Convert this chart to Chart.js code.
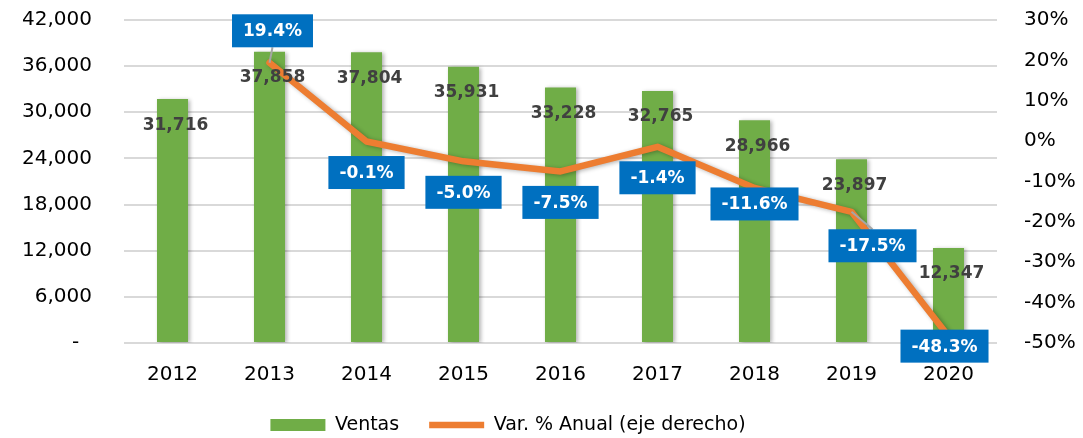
<!DOCTYPE html>
<html>
<head>
<meta charset="utf-8">
<script src="https://cdn.jsdelivr.net/npm/chart.js@4"></script>
<style>
  html, body { margin: 0; padding: 0; background: #fff; }
  #wrap { width: 1083px; height: 438px; }
</style>
</head>
<body>
<div id="wrap"><canvas id="ventas-chart"></canvas></div>
<script>
'use strict';

// *************** DATA
let years = ['2012', '2013', '2014', '2015', '2016', '2017', '2018', '2019', '2020'];
let ventas = [31716, 37858, 37804, 35931, 33228, 32765, 28966, 23897, 12347];
let varAnual = [null, 19.4, -0.1, -5.0, -7.5, -1.4, -11.6, -17.5, -48.3];
let leftTicks = [0, 6000, 12000, 18000, 24000, 30000, 36000, 42000];
let rightTicks = [-50, -40, -30, -20, -10, 0, 10, 20, 30];

// *************** LABEL PLACEMENT (blue box offset from its point, px)
let boxOffsets = [null, [3, -32], [0, 31], [0, 31], [0, 31], [0, 31], [0, 16], [21, 34], [-4, 10]];
let leaderLines = [false, true, false, false, false, false, false, true, false];

// *************** COLORS
let green = '#70AD47';
let orange = '#ED7D31';
let blue = '#0070C0';

Chart.defaults.font.family = '"DejaVu Sans", sans-serif';
Chart.defaults.color = '#000';

let ctx = document.getElementById('ventas-chart');

// ***************** PLUGINS
let shadowPlugin = {
  id: 'shadowPlugin',
  beforeDatasetDraw(chart) {
    let c = chart.ctx;
    c.save();
    c.shadowColor = 'rgba(0, 0, 0, 0.3)';
    c.shadowBlur = 4;
    c.shadowOffsetX = 2;
    c.shadowOffsetY = 1;
  },
  afterDatasetDraw(chart) {
    chart.ctx.restore();
  }
};

let labelPlugin = {
  id: 'labelPlugin',
  afterDatasetsDraw(chart) {
    let c = chart.ctx;
    c.save();
    c.font = 'bold 17px "DejaVu Sans"';
    c.textAlign = 'center';
    c.textBaseline = 'middle';

    // bar value labels, inside the bar just below its top
    c.fillStyle = '#404040';
    chart.getDatasetMeta(0).data.forEach((bar, i) => {
      c.fillText(ventas[i].toLocaleString('en-US'), bar.x + 3, bar.y + 26);
    });

    // blue boxes for the % line
    chart.getDatasetMeta(1).data.forEach((pt, i) => {
      if (varAnual[i] === null) {
        return;
      }
      let text = varAnual[i].toFixed(1) + '%';
      let w = c.measureText(text).width + 22;
      let h = 33;
      let cx = pt.x + boxOffsets[i][0];
      let cy = pt.y + boxOffsets[i][1];

      if (leaderLines[i]) {
        let edgeY = boxOffsets[i][1] < 0 ? cy + h / 2 : cy - h / 2;
        c.strokeStyle = '#a6a6a6';
        c.lineWidth = 2;
        c.beginPath();
        c.moveTo(pt.x, pt.y);
        c.lineTo(cx, edgeY);
        c.stroke();
      }

      c.fillStyle = blue;
      c.fillRect(cx - w / 2, cy - h / 2, w, h);
      c.fillStyle = '#fff';
      c.fillText(text, cx, cy + 1);
    });
    c.restore();
  }
};

// shift the legend a bit left, like the original
let legendShift = {
  id: 'legendShift',
  afterLayout(chart) {
    chart.legend.right -= 67;
  }
};

// y axes: keep the tick padding from pushing the plot area down
function fixVertical(width) {
  return function (scale) {
    scale.width = width;
    scale.paddingTop = 0;
    scale.paddingBottom = 0;
  };
}

// **************** CHART
let chartObj = {
  type: 'bar',
  data: {
    labels: years,
    datasets: [{
      type: 'bar',
      label: 'Ventas',
      data: ventas,
      backgroundColor: green,
      borderWidth: 0,
      barPercentage: 0.32,
      categoryPercentage: 1,
      pointStyle: 'rect',
      yAxisID: 'y',
      order: 1
    },
    {
      type: 'line',
      label: 'Var. % Anual (eje derecho)',
      data: varAnual,
      borderColor: orange,
      backgroundColor: orange,
      borderWidth: 6.5,
      borderCapStyle: 'round',
      borderJoinStyle: 'round',
      pointRadius: 0,
      pointStyle: 'line',
      tension: 0,
      yAxisID: 'y1',
      order: 0
    }]
  },
  options: {
    responsive: true,
    maintainAspectRatio: false,
    animation: false,
    layout: {
      padding: { top: 20, left: 0, right: 0, bottom: -6.5 }
    },
    plugins: {
      tooltip: { enabled: false },
      legend: {
        position: 'bottom',
        labels: {
          usePointStyle: true,
          pointStyleWidth: 55,
          boxHeight: 12,
          padding: 30,
          color: '#000',
          font: { size: 19 },
          sort: (a, b) => a.datasetIndex - b.datasetIndex
        }
      }
    },
    scales: {
      x: {
        grid: { display: false },
        border: { display: false },
        ticks: { padding: 12, font: { size: 20 }, color: '#000' },
        afterFit(scale) {
          scale.height = 42.5;
        }
      },
      y: {
        position: 'left',
        min: 0,
        max: 42000,
        afterBuildTicks(scale) {
          scale.ticks = leftTicks.map(v => ({ value: v }));
        },
        ticks: {
          padding: 32,
          font: { size: 20 },
          color: '#000',
          callback: (v) => v === 0 ? '-  ' : v.toLocaleString('en-US')
        },
        grid: { color: '#d9d9d9', lineWidth: 2, drawTicks: false },
        border: { display: false },
        afterFit: fixVertical(124)
      },
      y1: {
        position: 'right',
        min: -50,
        max: 30,
        afterBuildTicks(scale) {
          scale.ticks = rightTicks.map(v => ({ value: v }));
        },
        ticks: {
          padding: 27,
          font: { size: 20 },
          color: '#000',
          callback: (v) => v + '%'
        },
        grid: { display: false, drawTicks: false },
        border: { display: false },
        afterFit: fixVertical(86)
      }
    }
  },
  plugins: [shadowPlugin, labelPlugin, legendShift]
};

new Chart(ctx, chartObj);
</script>
</body>
</html>
